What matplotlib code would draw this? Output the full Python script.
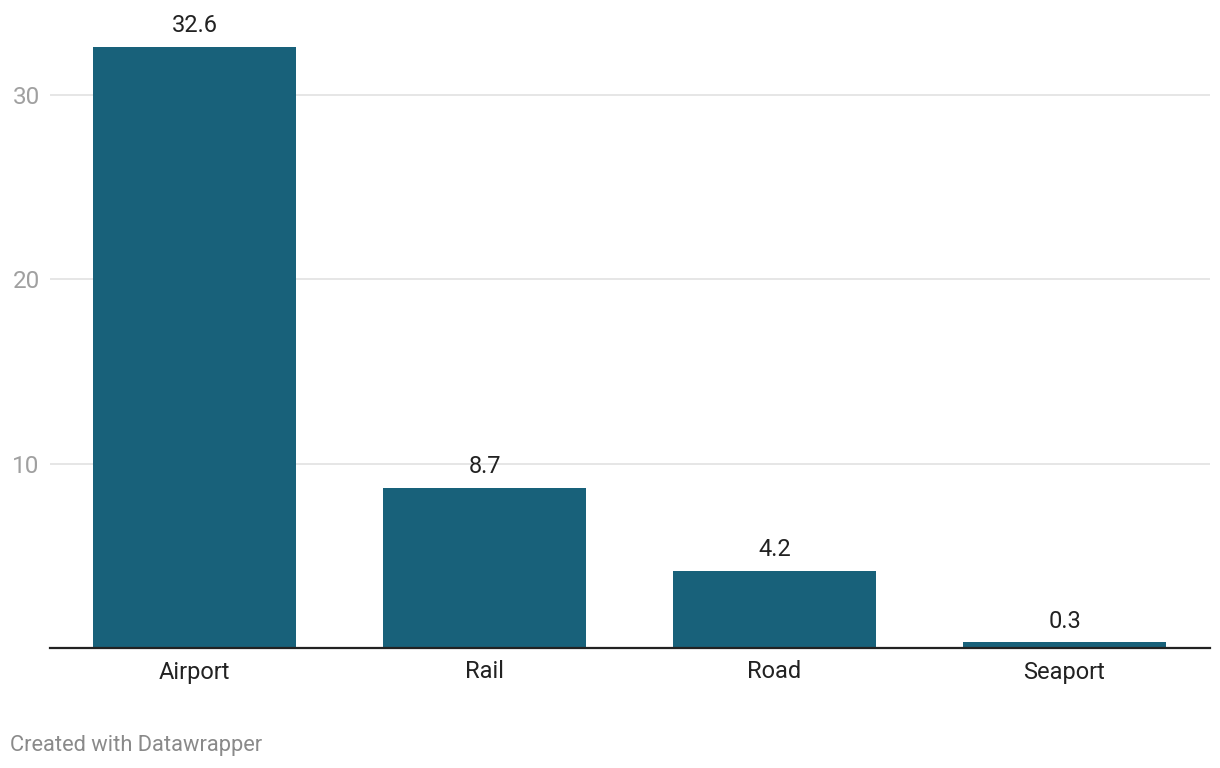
import matplotlib.pyplot as plt

plt.rcParams['font.family'] = ['Roboto', 'DejaVu Sans']

categories = ['Airport', 'Rail', 'Road', 'Seaport']
values = [32.6, 8.7, 4.2, 0.3]
y_ticks = [10, 20, 30]

W, H = 1220, 768
fig = plt.figure(figsize=(W / 100, H / 100), dpi=100)
ax = fig.add_axes([49.5 / W, (H - 648) / H, 1160 / W, 601 / H])

x = range(len(categories))
bars = ax.bar(x, values, width=0.7, color='#18617a', zorder=2)

ax.set_xlim(-0.5, len(categories) - 0.5)
ax.set_ylim(0, 32.6)

# value labels above bars
for rect, v in zip(bars, values):
    ax.annotate(f'{v:.1f}', (rect.get_x() + rect.get_width() / 2, v),
                xytext=(0, 7), textcoords='offset points',
                ha='center', va='bottom', fontsize=17, color='#222222')

ax.set_xticks(list(x))
ax.set_xticklabels(categories, fontsize=17, color='#222222')
ax.tick_params(axis='x', length=0, pad=9)

ax.set_yticks(y_ticks)
ax.set_yticklabels([str(t) for t in y_ticks], fontsize=17.5, color='#a0a0a0')
ax.tick_params(axis='y', length=0, pad=7)
ax.yaxis.grid(True, color='#e2e2e2', linewidth=1.2, zorder=0)

for s in ['top', 'right', 'left']:
    ax.spines[s].set_visible(False)
ax.spines['bottom'].set_color('#222222')
ax.spines['bottom'].set_linewidth(1.6)
ax.spines['bottom'].set_zorder(3)

fig.text(10 / W, 1 - 745 / H, 'Created with Datawrapper', fontsize=15.75,
         color='#8a8a8a', ha='left', va='center')

plt.savefig('out.png', dpi=100)
